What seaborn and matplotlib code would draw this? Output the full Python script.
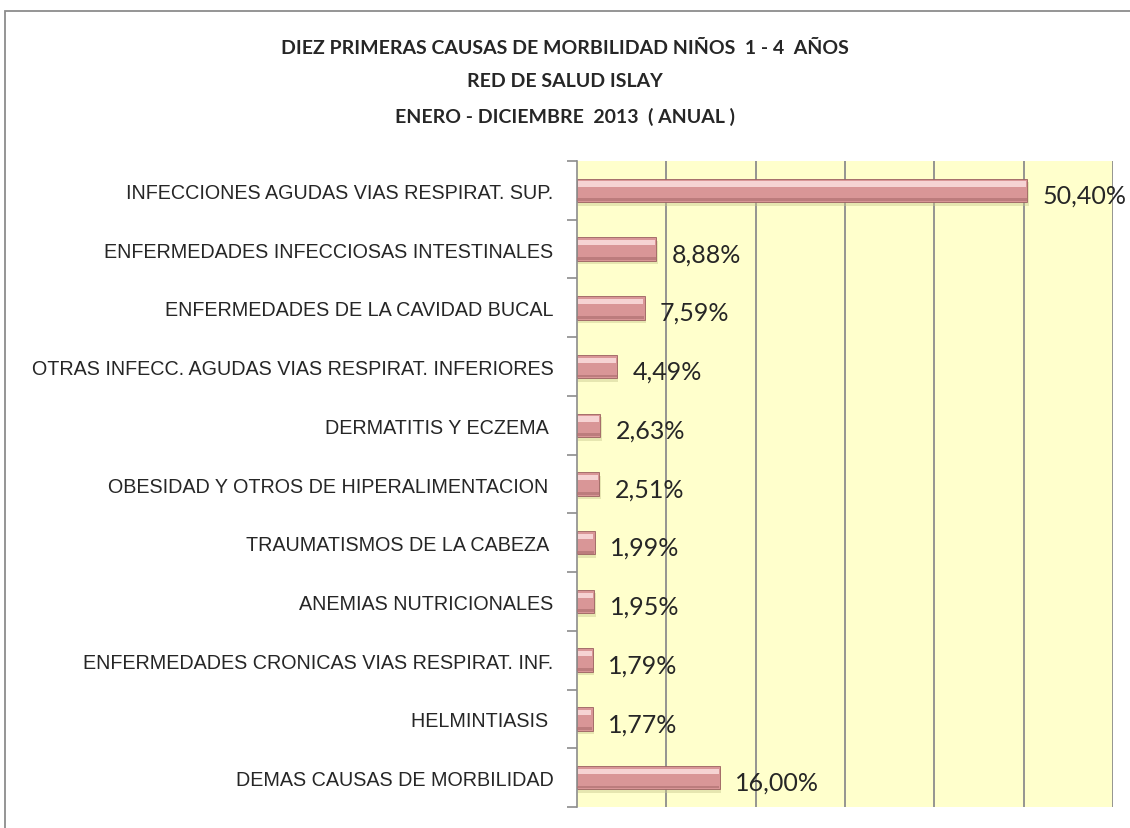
import numpy as np
import pandas as pd
import seaborn as sns
import matplotlib.pyplot as plt
from matplotlib.patches import Rectangle

# ----------------------------------------------------
# Data
# ----------------------------------------------------
CAUSES = [
    "INFECCIONES AGUDAS VIAS RESPIRAT. SUP.",
    "ENFERMEDADES INFECCIOSAS INTESTINALES",
    "ENFERMEDADES DE LA CAVIDAD BUCAL",
    "OTRAS INFECC. AGUDAS VIAS RESPIRAT. INFERIORES",
    "DERMATITIS Y ECZEMA ",
    "OBESIDAD Y OTROS DE HIPERALIMENTACION ",
    "TRAUMATISMOS DE LA CABEZA ",
    "ANEMIAS NUTRICIONALES",
    "ENFERMEDADES CRONICAS VIAS RESPIRAT. INF.",
    "HELMINTIASIS ",
    "DEMAS CAUSAS DE MORBILIDAD",
]
PERCENTS = [50.40, 8.88, 7.59, 4.49, 2.63, 2.51, 1.99, 1.95, 1.79, 1.77, 16.00]

TITLE = ("DIEZ PRIMERAS CAUSAS DE MORBILIDAD NIÑOS  1 - 4  AÑOS\n"
         "RED DE SALUD ISLAY\n"
         "ENERO - DICIEMBRE  2013  ( ANUAL )")

df = pd.DataFrame({"causa": CAUSES, "pct": PERCENTS})

# ----------------------------------------------------
# Plot
# ----------------------------------------------------
sns.set_style("white")
plt.rcParams["font.family"] = ["Liberation Sans", "DejaVu Sans"]

fig = plt.figure(figsize=(11.3, 8.29), dpi=100)
ax = fig.add_axes([0.5106, 0.0253, 0.4744, 0.7793])
ax.set_facecolor("#FFFFCC")

bar_h = 0.40
pos = np.arange(len(CAUSES))

# soft shadow under the bars
ax.barh(pos + 0.06, df["pct"], height=bar_h, left=0.15,
        color="#C9C98F", alpha=0.45, linewidth=0, zorder=1.5)

sns.barplot(data=df, x="pct", y="causa", orient="h", ax=ax,
            color="#D99697", edgecolor="#9A6060", linewidth=0.6,
            width=bar_h, saturation=1, zorder=2)

# bevel: light band on top, darker band at the bottom
ax.barh(pos - bar_h * 0.27, df["pct"] - 0.3, height=bar_h * 0.22, left=0.15,
        color="#F6D3D3", linewidth=0, zorder=3)
ax.barh(pos + bar_h * 0.40, df["pct"] - 0.1, height=bar_h * 0.12, left=0.05,
        color="#B07272", linewidth=0, zorder=3, alpha=0.7)

for i, v in enumerate(PERCENTS):
    ax.text(v + 1.7, i + 0.08, f"{v:.2f}%".replace(".", ","),
            va="center", ha="left", fontsize=18, family=["Lato", "DejaVu Sans"])

ax.set_xlim(0, 60)
ax.set_ylim(len(CAUSES) - 0.5, -0.5)
ax.set_xticks(np.arange(10, 61, 10))
ax.set_xticklabels([])
ax.tick_params(axis="x", length=0)
ax.grid(axis="x", color="#8C8C8C", linewidth=1.3)
ax.set_axisbelow(True)

ax.set_yticks(pos)
ax.set_yticklabels(CAUSES, fontsize=14.2)
ax.tick_params(axis="y", which="major", left=False, length=0, pad=17)
ax.set_yticks(np.arange(-0.5, len(CAUSES)), minor=True)
ax.tick_params(axis="y", which="minor", left=True, length=7,
               color="#8C8C8C", width=1.2)

ax.set_xlabel("")
ax.set_ylabel("")
for s in ["top", "right", "bottom"]:
    ax.spines[s].set_visible(False)
ax.spines["left"].set_color("#8C8C8C")
ax.spines["left"].set_linewidth(1.2)

fig.text(0.5, 0.9, TITLE, ha="center", va="center", fontsize=14,
         fontweight="bold", linespacing=2.15, family=["Lato", "DejaVu Sans"])

# chart frame
fig.patches.append(Rectangle((5 / 1130, -0.1), 1.2, 1.1 - 12 / 829,
                             transform=fig.transFigure, fill=False,
                             edgecolor="#8C8C8C", linewidth=1.3))

fig.savefig("out.png", dpi=100)
